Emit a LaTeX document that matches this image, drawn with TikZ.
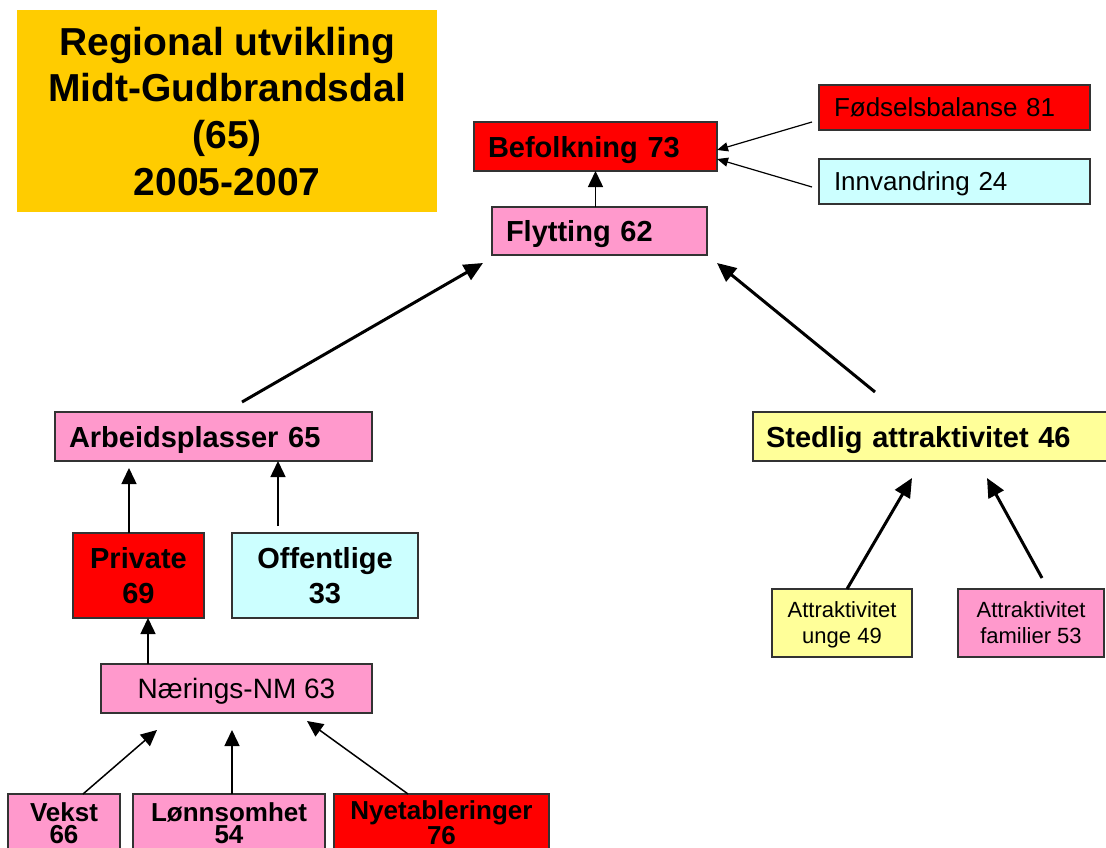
\documentclass[tikz,border=0pt]{standalone}
\usepackage{fontspec}
\setmainfont{Liberation Sans}
\usetikzlibrary{arrows.meta,calc}
\definecolor{cred}{HTML}{FF0000}
\definecolor{cpink}{HTML}{FF99CC}
\definecolor{ccyan}{HTML}{CCFFFF}
\definecolor{cyel}{HTML}{FFFF99}
\definecolor{cgold}{HTML}{FFCC00}
\tikzset{
  box/.style={draw=black!80, line width=1.2pt, anchor=north west, inner sep=0pt, outer sep=0pt},
  hb/.style={font=\bfseries\fontsize{29}{35}\selectfont},
  nt/.style={font=\fontsize{26}{31}\selectfont},
  sb/.style={font=\bfseries\fontsize{26}{22}\selectfont},
  tiny/.style={font=\fontsize{22}{26}\selectfont},
  thinarrow/.style={line width=1.5pt, -{Triangle[length=16pt,width=15pt]}},
  smallarrow/.style={line width=1.2pt, -{Triangle[length=11pt,width=9pt]}},
  thickarrow/.style={line width=3pt, -{Triangle[length=19pt,width=17pt]}}
}
\begin{document}
\begin{tikzpicture}[x=1pt,y=-1pt]
\fill[white] (0,0) rectangle (1106,848);
\useasboundingbox (0,0) rectangle (1106,848);

% title
\node[anchor=north west, fill=cgold, inner sep=0pt, minimum width=420, minimum height=202,
      align=center, font=\bfseries\fontsize{39}{46.7}\selectfont] (title) at (17,10)
  {Regional utvikling\\Midt-Gudbrandsdal\\(65)\\2005-2007};

% top
\node[box, hb, fill=cred, minimum height=49, text width=215, inner xsep=14, align=left, text depth=0pt] (bef) at (474,122) {Befolkning 73};
\node[box, nt, fill=cred, minimum height=45, text width=241, inner xsep=15, align=left] (fod) at (819,85) {Fødselsbalanse 81};
\node[box, nt, fill=ccyan, minimum height=45, text width=241, inner xsep=15, align=left, text depth=0pt] (inn) at (819,159) {Innvandring 24};
\node[box, hb, fill=cpink, minimum height=48, text width=187, inner xsep=14, align=left, text depth=0pt] (fly) at (492,207) {Flytting 62};

% middle
\node[box, hb, fill=cpink, minimum height=49, text width=289, inner xsep=14, align=left, text depth=0pt] (arb) at (55,412) {Arbeidsplasser 65};
\node[box, hb, fill=cyel, minimum height=49, text width=334, inner xsep=13, align=left, text depth=0pt] (sted) at (753,412) {Stedlig attraktivitet 46};

\node[box, hb, fill=cred, minimum width=131, minimum height=85, align=center] (priv) at (73,533) {Private\\69};
\node[box, hb, fill=ccyan, minimum width=186, minimum height=85, align=center] (off) at (232,533) {Offentlige\\33};

\node[box, font=\fontsize{28}{33}\selectfont, fill=cpink, minimum width=271, minimum height=49, text depth=0pt] (naer) at (101,664) {Nærings-NM 63};

% bottom row
\node[box, sb, fill=cpink, minimum width=112, minimum height=58, align=center] (vekst) at (8,794) {Vekst\\66};
\node[box, sb, fill=cpink, minimum width=192, minimum height=58, align=center] (lonn) at (133,794) {Lønnsomhet\\54};
\node[box, sb, fill=cred, minimum width=215, minimum height=58, align=center] (nye) at (334,794) {Nyetableringer\\76};

% attraktivitet
\node[box, tiny, fill=cyel, minimum width=140, minimum height=68, align=center, text depth=0pt] (unge) at (772,589) {Attraktivitet\\unge 49};
\node[box, tiny, fill=cpink, minimum width=146, minimum height=68, align=center, text depth=0pt] (fam) at (958,589) {Attraktivitet\\familier 53};

% connectors
\draw[thinarrow] (fly.north -| bef.south) -- (bef.south);
\draw[smallarrow] ($(fod.west)+(-7,14.5)$) -- ($(bef.east)+(0,3.5)$);
\draw[smallarrow] ($(inn.west)+(-7,5.5)$) -- ($(bef.east)+(0,12.5)$);

\draw[thickarrow] ($(arb.north)+(28.5,-10)$) -- ($(fly.south west)+(-9,8)$);
\draw[thickarrow] ($(sted.north west)+(122,-20)$) -- ($(fly.south east)+(10,8)$);

\draw[thinarrow] ($(priv.north)+(-9.5,0)$) -- ($(arb.south west)+(74,7)$);
\draw[thinarrow] ($(off.north)+(-47,-7)$) -- ($(arb.south west)+(223,0)$);
\draw[thinarrow] ($(naer.north west)+(47,0)$) -- ($(priv.south west)+(75,0)$);

\draw[thinarrow] ($(vekst.north west)+(75,0)$) -- ($(naer.south west)+(56,17)$);
\draw[thinarrow] ($(lonn.north west)+(99,0)$) -- ($(naer.south west)+(131,17)$);
\draw[thinarrow] ($(nye.north west)+(74,0)$) -- ($(naer.south west)+(206,8)$);

\draw[thickarrow] ($(unge.north west)+(75,0)$) -- ($(sted.south west)+(159,17)$);
\draw[thickarrow] ($(fam.north west)+(84,-11)$) -- ($(sted.south west)+(234,17)$);
\end{tikzpicture}
\end{document}
